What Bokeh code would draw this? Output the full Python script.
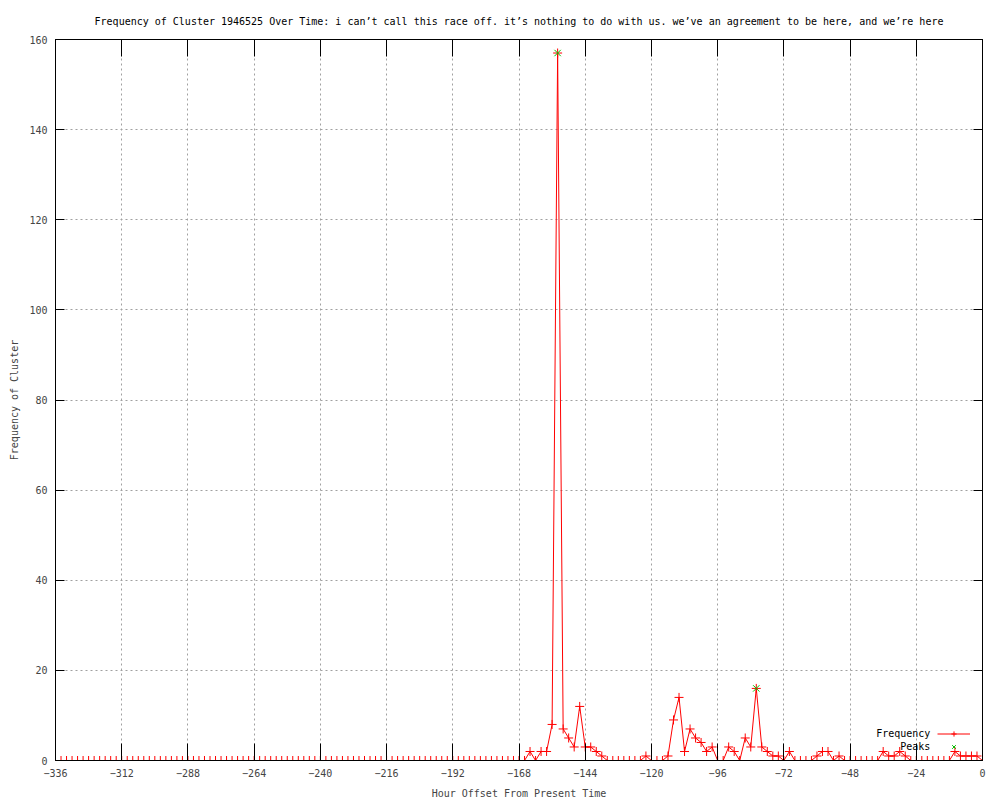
from bokeh.plotting import figure
from bokeh.models import (Range1d, FixedTicker, LinearAxis, Legend, LegendItem,
                          Label, ColumnDataSource)
from bokeh.embed import file_html
from bokeh.resources import INLINE

TITLE = ("Frequency of Cluster 1946525 Over Time: i can\u2019t call this race off. "
         "it\u2019s nothing to do with us. we\u2019ve an agreement to be here, and we\u2019re here")

# two-hour bins, from -336 h to 0 h
hours = list(range(-336, 1, 2))
counts = [
    0, 0, 0, 0, 0, 0, 0, 0, 0, 0, 0, 0, 0, 0, 0, 0, 0, 0, 0, 0,   # -336 .. -298
    0, 0, 0, 0, 0, 0, 0, 0, 0, 0, 0, 0, 0, 0, 0, 0, 0, 0, 0, 0,   # -296 .. -258
    0, 0, 0, 0, 0, 0, 0, 0, 0, 0, 0, 0, 0, 0, 0, 0, 0, 0, 0, 0,   # -256 .. -218
    0, 0, 0, 0, 0, 0, 0, 0, 0, 0, 0, 0, 0, 0, 0, 0, 0, 0, 0, 0,   # -216 .. -178
    0, 0, 0, 0, 0, 0,                                             # -176 .. -166
    2, 0, 2, 2, 8, 157, 7, 5, 3, 12, 3, 3, 2, 1,                  # -164 .. -138
    0, 0, 0, 0, 0, 0, 0, 1, 0, 0, 0, 1, 9, 14,                    # -136 .. -110
    2, 7, 5, 4, 2, 3, 0, 0, 3, 2, 0, 5, 3, 16,                    # -108 .. -82
    3, 2, 1, 1, 0, 2, 0, 0, 0, 0, 1, 2, 2, 0,                     # -80 .. -54
    1, 0, 0, 0, 0, 0, 0, 0, 2, 1, 1, 2, 1, 0,                     # -52 .. -26
    0, 0, 0, 0, 0, 0, 0, 2, 1, 1, 1, 1, 0, 0,                     # -24 .. 0
]
peak_hours = [-154, -82]
peak_counts = [157, 16]

x_ticks = list(range(-336, 1, 24))
y_ticks = list(range(0, 161, 20))

FONT = "DejaVu Sans Mono"
FS = "10px"
RED = "#ff0000"
GREEN = "#00c000"

p = figure(frame_width=927, frame_height=721, output_backend="svg", toolbar_location=None,
           x_range=Range1d(-336, 0), y_range=Range1d(0, 160), title=TITLE,
           min_border_left=55, min_border_right=18, min_border_top=39, min_border_bottom=30)

p.title.text_font = FONT
p.title.text_font_size = FS
p.title.text_font_style = "normal"
p.title.align = "center"
p.title.text_color = "black"
p.title.standoff = 26

p.outline_line_color = "black"
p.outline_line_width = 1

for ax in (p.xaxis[0], p.yaxis[0]):
    ax.major_label_text_font = FONT
    ax.major_label_text_font_size = FS
    ax.axis_label_text_font = FONT
    ax.axis_label_text_font_size = FS
    ax.axis_label_text_font_style = "normal"
    ax.major_tick_out = 0
    ax.minor_tick_in = 0
    ax.minor_tick_out = 0
    ax.axis_line_color = "black"
    ax.major_tick_line_color = "black"
    ax.major_label_standoff = 8

p.xaxis[0].axis_label_standoff = 8
p.yaxis[0].axis_label_standoff = 6
p.xaxis[0].ticker = FixedTicker(ticks=x_ticks)
p.yaxis[0].ticker = FixedTicker(ticks=y_ticks)
p.xaxis[0].major_tick_in = 17
p.yaxis[0].major_tick_in = 9
p.xaxis[0].axis_label = "Hour Offset From Present Time"
p.yaxis[0].axis_label = "Frequency of Cluster"

top_ax = LinearAxis(ticker=FixedTicker(ticks=x_ticks), major_label_text_font_size="1px",
                    major_label_text_color=None,
                    major_tick_in=17, major_tick_out=0, minor_tick_in=0, minor_tick_out=0,
                    major_label_standoff=0, axis_line_color="black")
right_ax = LinearAxis(ticker=FixedTicker(ticks=y_ticks), major_label_text_font_size="1px",
                      major_label_text_color=None,
                      major_tick_in=9, major_tick_out=0, minor_tick_in=0, minor_tick_out=0,
                      major_label_standoff=0, axis_line_color="black")
p.add_layout(top_ax, "above")
p.add_layout(right_ax, "right")

p.xgrid.ticker = FixedTicker(ticks=x_ticks)
p.ygrid.ticker = FixedTicker(ticks=y_ticks)
for g in (p.xgrid[0], p.ygrid[0]):
    g.grid_line_color = "#a0a0a0"
    g.grid_line_dash = "2 3"
    g.grid_line_width = 1

src = ColumnDataSource(dict(h=hours, c=counts))
psrc = ColumnDataSource(dict(h=peak_hours, c=peak_counts))

line_r = p.line("h", "c", source=src, line_color=RED, line_width=1)
sc_r = p.scatter("h", "c", source=src, marker="cross", size=9, line_color=RED, line_width=1)
pk_r = p.scatter("h", "c", source=psrc, marker="x", size=9, line_color=GREEN, line_width=1)

leg = Legend(items=[LegendItem(label=" ", renderers=[line_r, sc_r]),
                    LegendItem(label=" ", renderers=[pk_r])],
             location=(882, 7), orientation="vertical", glyph_width=33, glyph_height=13,
             label_width=0, label_height=13, label_standoff=0, padding=0, spacing=0, margin=0,
             background_fill_alpha=0, border_line_alpha=0, label_text_font_size="1px")
p.add_layout(leg)

p.add_layout(Label(x=-18.9, y=6.0, text="Frequency", text_align="right", text_baseline="middle",
                   text_font=FONT, text_font_size=FS, text_color="black"))
p.add_layout(Label(x=-18.9, y=3.1, text="Peaks", text_align="right", text_baseline="middle",
                   text_font=FONT, text_font_size=FS, text_color="black"))

open("out.html", "w").write(file_html(p, INLINE))
